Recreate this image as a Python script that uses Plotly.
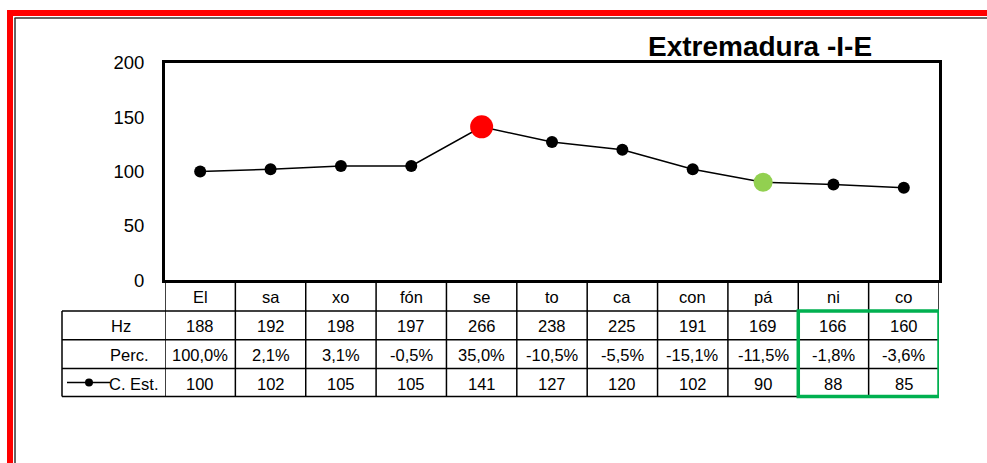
import plotly.graph_objects as go

W, H = 987, 463

categories = ["El", "sa", "xo", "fón", "se", "to", "ca", "con", "pá", "ni", "co"]
hz_values = [188, 192, 198, 197, 266, 238, 225, 191, 169, 166, 160]
perc_values = [100.0, 2.1, 3.1, -0.5, 35.0, -10.5, -5.5, -15.1, -11.5, -1.8, -3.6]
cest_values = [100, 102, 105, 105, 141, 127, 120, 102, 90, 88, 85]
y_ticks = [0, 50, 100, 150, 200]
title_text = "Extremadura -I-E"
row_labels = ["Hz", "Perc.", "C. Est."]

max_idx = 4   # red highlight
min_idx = 8   # green highlight

# vertical compensation for the capture (observed offset / scale)
VS, VOFF = 0.961, 9.0

def px(x):
    return x / W

def py(y):
    return 1 - ((y - VOFF) / VS) / H

FONT = "Liberation Sans, Arial, sans-serif"

PL, PR, PT, PB = 165, 939, 61, 280
ROWS = [PB, 311, 340, 369, 397]
TL = 62

n = len(categories)
colors = ["black"] * n
sizes = [12] * n
colors[max_idx] = "#ff0000"
sizes[max_idx] = 23
colors[min_idx] = "#92d050"
sizes[min_idx] = 19

fig = go.Figure()
fig.add_trace(go.Scatter(
    x=list(range(n)), y=cest_values, mode="lines+markers",
    line=dict(color="black", width=1.6),
    marker=dict(color=colors, size=sizes, opacity=1, line=dict(width=0)),
    showlegend=False, hoverinfo="skip",
))

shapes = []
annotations = []

# red frame
shapes.append(dict(type="rect", xref="paper", yref="paper", x0=px(7), x1=px(990), y0=py(14), y1=py(8),
                   fillcolor="#ff0000", line=dict(width=0), layer="above"))
shapes.append(dict(type="rect", xref="paper", yref="paper", x0=px(7), x1=px(13), y0=py(480), y1=py(8),
                   fillcolor="#ff0000", line=dict(width=0), layer="above"))
shapes.append(dict(type="line", xref="paper", yref="paper", x0=px(14.5), x1=px(990), y0=py(16), y1=py(16),
                   line=dict(color="#333333", width=1.5)))
shapes.append(dict(type="line", xref="paper", yref="paper", x0=px(15), x1=px(15), y0=py(16), y1=py(480),
                   line=dict(color="#333333", width=1.5)))

# table grid
for i in range(n + 1):
    shapes.append(dict(type="line", xref="x", yref="paper", x0=i - 0.5, x1=i - 0.5,
                       y0=py(PB), y1=py(ROWS[-1]), line=dict(color="black", width=1.5)))
for r in ROWS[1:]:
    shapes.append(dict(type="line", xref="paper", yref="paper", x0=px(TL), x1=px(PR),
                       y0=py(r), y1=py(r), line=dict(color="black", width=1.5)))
shapes.append(dict(type="line", xref="paper", yref="paper", x0=px(TL), x1=px(TL),
                   y0=py(ROWS[1]), y1=py(ROWS[-1]), line=dict(color="black", width=1.5)))

# green highlight box
shapes.append(dict(type="rect", xref="x", yref="paper", x0=n - 2 - 0.5, x1=n - 0.5,
                   y0=py(ROWS[-1]), y1=py(ROWS[1]), line=dict(color="#00b050", width=3.5),
                   layer="above"))

# legend key in table
ly = (ROWS[3] + ROWS[4]) / 2
shapes.append(dict(type="line", xref="paper", yref="paper", x0=px(67), x1=px(110), y0=py(ly), y1=py(ly),
                   line=dict(color="black", width=1.6)))
shapes.append(dict(type="circle", xref="paper", yref="paper", x0=px(85), x1=px(93), y0=py(ly + 4), y1=py(ly - 4),
                   fillcolor="black", line=dict(width=0)))

def fmt_pct(v):
    return ("%.1f%%" % v).replace(".", ",")

rows_text = [categories, [str(v) for v in hz_values], [fmt_pct(v) for v in perc_values],
             [str(v) for v in cest_values]]
for ri, texts in enumerate(rows_text):
    yc = (ROWS[ri] + ROWS[ri + 1]) / 2 + 1
    for i, t in enumerate(texts):
        annotations.append(dict(x=i, y=py(yc), xref="x", yref="paper", text=t, showarrow=False,
                                font=dict(family=FONT, size=16.5, color="black"),
                                xanchor="center", yanchor="middle"))

label_right = [133, 151, 161]
for ri, lab in enumerate(row_labels):
    yc = (ROWS[ri + 1] + ROWS[ri + 2]) / 2 + 1
    annotations.append(dict(x=px(label_right[ri]), y=py(yc), xref="paper", yref="paper", text=lab,
                            showarrow=False, font=dict(family=FONT, size=16.5, color="black"),
                            xanchor="right", yanchor="middle"))

annotations.append(dict(x=px(760), y=py(45), xref="paper", yref="paper", text="<b>" + title_text + "</b>",
                        showarrow=False, font=dict(family=FONT, size=28, color="black"),
                        xanchor="center", yanchor="middle"))

fig.update_layout(
    width=W, height=H, margin=dict(l=0, r=0, t=0, b=0),
    paper_bgcolor="white", plot_bgcolor="white",
    shapes=shapes, annotations=annotations,
    xaxis=dict(domain=[px(PL), px(PR)], range=[-0.5, n - 0.5], showticklabels=False,
               showgrid=False, zeroline=False, showline=True, mirror=True,
               linecolor="black", linewidth=3, ticks=""),
    yaxis=dict(domain=[py(PB), py(PT)], range=[0, 200], tickvals=y_ticks,
               showgrid=False, zeroline=False, showline=True, mirror=True,
               linecolor="black", linewidth=3, ticks="outside", ticklen=14, tickcolor="white",
               tickfont=dict(family=FONT, size=18.5, color="black")),
)

post = (
    "var gd=document.getElementById('{plot_id}');"
    "gd.style.position='fixed';gd.style.top='0px';gd.style.left='0px';"
    "document.body.style.margin='0';document.body.style.padding='0';"
    "document.body.style.overflow='hidden';document.documentElement.style.overflow='hidden';"
)
fig.write_html("out.html", config={"displayModeBar": False, "responsive": False}, post_script=post)
